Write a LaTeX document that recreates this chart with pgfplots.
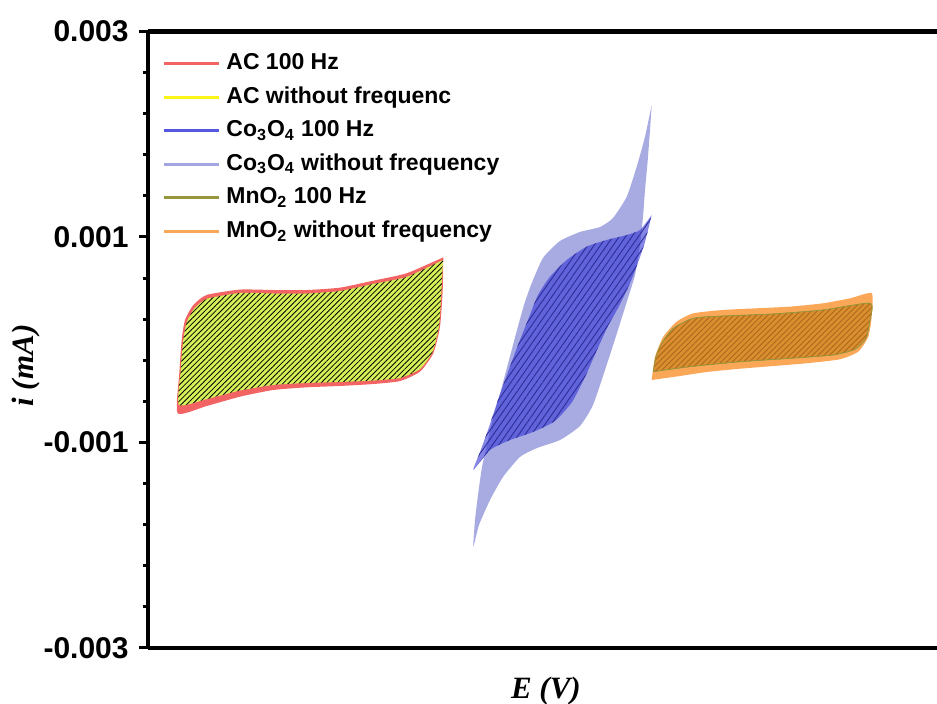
\documentclass[border=0pt]{standalone}
\usepackage{fontspec}
\setmainfont{Liberation Sans}
\newfontfamily\serifbi{Liberation Serif}
\usepackage{pgfplots}
\pgfplotsset{compat=1.18}
\usetikzlibrary{patterns.meta}

\definecolor{acred}{RGB}{242,100,100}
\definecolor{acyel}{RGB}{250,245,20}
\definecolor{aclime}{RGB}{214,240,88}
\definecolor{coblue}{RGB}{50,52,215}
\definecolor{colight}{RGB}{110,115,205}
\definecolor{colightleg}{RGB}{163,166,225}
\definecolor{coleg}{RGB}{85,88,222}
\definecolor{mnolive}{RGB}{150,150,60}
\definecolor{mnorange}{RGB}{250,168,88}
\definecolor{mnbrown}{RGB}{218,142,46}
\definecolor{mnhatch}{RGB}{170,105,30}
\definecolor{cohatch}{RGB}{45,45,150}

\begin{document}
\begin{tikzpicture}
\begin{axis}[
  scale only axis,
  width=394.5pt, height=308.25pt,
  xmin=148, xmax=937, ymin=-0.003, ymax=0.003,
  axis x line*=box, axis y line*=left,
  axis line style={line width=2.2pt, black},
  xtick=\empty,
  ytick={-0.003,-0.001,0.001,0.003},
  yticklabels={-0.003,-0.001,0.001,0.003},
  minor y tick num=4,
  scaled y ticks=false,
  tick align=outside,
  major tick length=4.5pt, minor tick length=2.5pt,
  tick style={line width=1.5pt, black},
  yticklabel style={font=\bfseries\fontsize{15}{15}\selectfont, inner sep=0pt, xshift=-5pt},
  every axis x label/.style={at={(axis description cs:0.5044,0)}, anchor=center, yshift=-21.5pt},
  every axis y label/.style={at={(axis description cs:-0.1546,0.4582)}, anchor=center, rotate=90},
  xlabel={\serifbi\bfseries\itshape\fontsize{15.5}{15.5}\selectfont E (V)},
  ylabel={\serifbi\bfseries\itshape\fontsize{15.5}{15.5}\selectfont i (mA)},
  legend image code/.code={\draw[#1, line width=1.5pt] (0pt,0pt) -- (27.5pt,0pt);},
  legend cell align=left,
  legend style={draw=none, fill=none, at={(0,1)}, anchor=north west,
    xshift=7pt, yshift=-9.85pt, inner sep=0pt,
    font=\bfseries\fontsize{11.5}{11.5}\selectfont,
    row sep=4.8pt, column sep=3pt,
    nodes={inner sep=0pt, text height=9pt, text depth=3pt}},
]
% AC 100 Hz
\addplot[forget plot, draw=none, fill=acred, smooth, tension=0.35] coordinates {
(443.3,0.000802) (406.7,0.000647) (373.3,0.000575) (340,0.000507) (306.7,0.000484) (273.3,0.000484) (240,0.000488) (206.7,0.000436) (193.3,0.000338) (185,0.000192) (181.7,-0.000002) (179.3,-0.000327) (177.7,-0.000716) (206.7,-0.000645) (240,-0.000554) (273.3,-0.000489) (306.7,-0.000463) (340,-0.000450) (373.3,-0.000431) (400,-0.000402) (420,-0.000311) (433.3,-0.000132) (440,0.000127) (442.7,0.000484) (443.3,0.000802)
} -- cycle;
% AC without frequency
\addplot[forget plot, draw=none, fill=aclime, smooth, tension=0.35,
  postaction={pattern={Lines[angle=45,distance=1.9pt,line width=0.4pt]}, pattern color=black}] coordinates {
(443,0.000776) (406.7,0.000611) (373.3,0.000543) (340,0.000474) (306.7,0.000450) (273.3,0.000450) (240,0.000455) (206.7,0.000397) (194,0.000299) (186.5,0.000163) (183,-0.000022) (180.5,-0.000324) (179,-0.000635) (206.7,-0.000577) (240,-0.000494) (273.3,-0.000440) (306.7,-0.000421) (340,-0.000411) (373.3,-0.000397) (400,-0.000372) (420,-0.000285) (432.5,-0.000119) (439,0.000134) (441.5,0.000484) (443,0.000776)
} -- cycle;
% Co3O4 without frequency
\addplot[forget plot, draw=none, fill=colight, fill opacity=0.6, smooth, tension=0.35] coordinates {
(651.7,0.002285) (650,0.002041) (647.5,0.001720) (645,0.001457) (643,0.001195) (640,0.000922) (635,0.000630) (628,0.000406) (617,0.000066) (606,-0.000265) (593,-0.000635) (580,-0.000839) (560,-0.000976) (537,-0.001054) (520,-0.001141) (503,-0.001336) (490,-0.001560) (479,-0.001803) (473.3,-0.002014) (475,-0.001754) (478,-0.001511) (482,-0.001239) (488,-0.000976) (494,-0.000732) (501,-0.000489) (509,-0.000197) (517,0.000095) (524,0.000338) (531,0.000533) (543,0.000796) (560,0.000961) (580,0.001049) (600,0.001097) (613,0.001185) (626.7,0.001392) (636.7,0.001684) (645,0.001976) (651.7,0.002285)
} -- cycle;
% Co3O4 100 Hz
\addplot[forget plot, draw=none, fill=coblue, fill opacity=0.6, smooth, tension=0.35,
  postaction={pattern={Lines[angle=55,distance=2.6pt,line width=0.45pt]}, pattern color=cohatch, fill opacity=0.35}] coordinates {
(651.7,0.001214) (640,0.001068) (626.7,0.001019) (606.7,0.000971) (586.7,0.000906) (566.7,0.000776) (550,0.000614) (538,0.000436) (528,0.000192) (518,-0.000051) (508,-0.000314) (498,-0.000586) (488,-0.000878) (480,-0.001093) (473.3,-0.001268) (490,-0.001073) (510,-0.000976) (533,-0.000898) (555,-0.000791) (572,-0.000606) (585,-0.000363) (597,-0.000100) (608,0.000134) (617,0.000290) (626,0.000465) (633,0.000620) (640,0.000805) (645,0.000951) (651.7,0.001214)
} -- cycle;
% MnO2 without frequency
\addplot[forget plot, draw=none, fill=mnorange, smooth, tension=0.35] coordinates {
(651.7,-0.000392) (655,-0.000165) (663.3,0.000030) (676.7,0.000176) (693.3,0.000257) (723.3,0.000290) (756.7,0.000306) (790,0.000322) (823.3,0.000355) (850,0.000403) (871.7,0.000452) (871.7,0.000224) (868.3,0.000030) (858.3,-0.000116) (840,-0.000190) (806.7,-0.000229) (773.3,-0.000256) (740,-0.000282) (706.7,-0.000314) (680,-0.000353) (651.7,-0.000392)
} -- cycle;
% MnO2 100 Hz
\addplot[forget plot, draw=mnolive, line width=0.3pt, fill=mnbrown, smooth, tension=0.35,
  postaction={pattern={Lines[angle=45,distance=2pt,line width=0.45pt]}, pattern color=mnhatch}] coordinates {
(653.3,-0.000311) (656,-0.000165) (661.7,-0.000035) (673.3,0.000111) (693.3,0.000209) (723.3,0.000231) (773.3,0.000251) (823.3,0.000290) (870,0.000355) (870,0.000192) (866,0.000014) (855,-0.000093) (833.3,-0.000148) (790,-0.000181) (740,-0.000214) (690,-0.000262) (653.3,-0.000311)
} -- cycle;

\addlegendimage{acred}
\addlegendentry{AC 100 Hz}
\addlegendimage{acyel}
\addlegendentry{AC without frequenc}
\addlegendimage{coleg}
\addlegendentry{Co\textsubscript{3}O\textsubscript{4} 100 Hz}
\addlegendimage{colightleg}
\addlegendentry{Co\textsubscript{3}O\textsubscript{4} without frequency}
\addlegendimage{mnolive}
\addlegendentry{MnO\textsubscript{2} 100 Hz}
\addlegendimage{mnorange}
\addlegendentry{MnO\textsubscript{2} without frequency}
\end{axis}
\pgfresetboundingbox
\useasboundingbox ([shift={(-74pt,-28pt)}]current axis.south west) rectangle ([shift={(0pt,15.75pt)}]current axis.north east);
\end{tikzpicture}
\end{document}
